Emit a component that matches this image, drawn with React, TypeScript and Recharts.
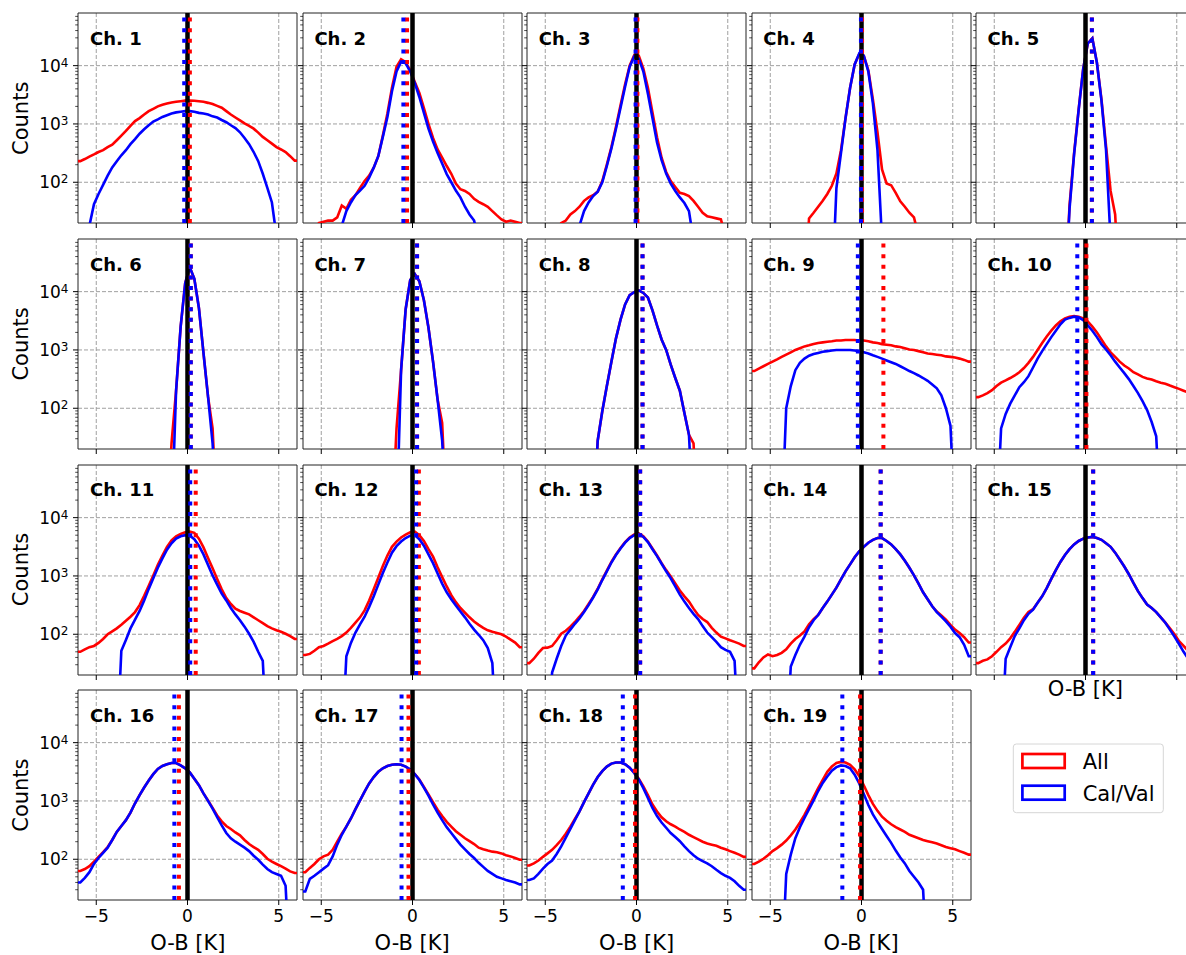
import React from 'react';
import { LineChart, Line, XAxis, YAxis, CartesianGrid, ReferenceLine, ReferenceArea } from 'recharts';

// centres of the 0.25 K histogram bins
const BIN_CENTERS = [-5.875, -5.625, -5.375, -5.125, -4.875, -4.625, -4.375, -4.125, -3.875, -3.625, -3.375, -3.125,
  -2.875, -2.625, -2.375, -2.125, -1.875, -1.625, -1.375, -1.125, -0.875, -0.625, -0.375, -0.125,
  0.125, 0.375, 0.625, 0.875, 1.125, 1.375, 1.625, 1.875, 2.125, 2.375, 2.625, 2.875,
  3.125, 3.375, 3.625, 3.875, 4.125, 4.375, 4.625, 4.875, 5.125, 5.375, 5.625, 5.875];

const CHANNELS = ['Ch. 1', 'Ch. 2', 'Ch. 3', 'Ch. 4', 'Ch. 5', 'Ch. 6', 'Ch. 7', 'Ch. 8', 'Ch. 9', 'Ch. 10',
  'Ch. 11', 'Ch. 12', 'Ch. 13', 'Ch. 14', 'Ch. 15', 'Ch. 16', 'Ch. 17', 'Ch. 18', 'Ch. 19'];

const X_TICKS = [-5, 0, 5];
const Y_TICKS = [100, 1000, 10000];
const Y_MINOR = [30, 40, 50, 60, 70, 80, 90, 200, 300, 400, 500, 600, 700, 800, 900,
  2000, 3000, 4000, 5000, 6000, 7000, 8000, 9000, 20000, 30000, 40000, 50000, 60000, 70000];

// counts per bin, "All" observations
const ALL_1 = [230, 250, 275, 300, 330, 355, 400, 440, 525, 630, 760, 930, 1120, 1260, 1450, 1660, 1820, 2000, 2140, 2240, 2340, 2400, 2450, 2510,
  2510, 2500, 2450, 2400, 2300, 2190, 2040, 1900, 1660, 1450, 1290, 1150, 1020, 930, 830, 710, 600, 525, 460, 400, 365, 330, 280, 235];
const ALL_2 = [0, 0, 0, 20, 21, 22, 22, 25, 40, 35, 50, 60, 80, 105, 130, 178, 280, 630, 1510, 4170, 9550, 12900, 11500, 8300,
  5250, 3390, 1860, 1000, 575, 365, 265, 190, 140, 95, 76, 71, 63, 52, 46, 42, 38, 32, 27, 23, 21, 22, 21, 20];
const ALL_3 = [0, 0, 0, 0, 0, 0, 0, 20, 22, 28, 32, 38, 48, 55, 60, 69, 105, 200, 400, 890, 2090, 4790, 10000, 15100,
  14800, 8900, 4170, 1580, 590, 263, 150, 105, 83, 66, 63, 58, 48, 38, 30, 26, 25, 24, 23, 12, 0, 0, 0, 0];
const ALL_4 = [0, 0, 0, 0, 0, 0, 0, 0, 0, 0, 0, 0, 24, 30, 38, 48, 63, 87, 141, 355, 1260, 4170, 10500, 15800,
  14800, 8300, 2630, 720, 166, 95, 89, 66, 47, 38, 30, 25, 12, 0, 0, 0, 0, 0, 0, 0, 0, 0, 0, 0];
const ALL_5 = [0, 0, 0, 0, 0, 0, 0, 0, 0, 0, 0, 0, 0, 0, 0, 0, 0, 0, 0, 0, 40, 316, 1780, 8900,
  24000, 29500, 11200, 2630, 420, 71, 28, 0, 0, 0, 0, 0, 0, 0, 0, 0, 0, 0, 0, 0, 0, 0, 0, 0];
const ALL_6 = [0, 0, 0, 0, 0, 0, 0, 0, 0, 0, 0, 0, 0, 0, 0, 0, 0, 0, 0, 0, 25, 200, 2510, 14100,
  26300, 16600, 5250, 890, 158, 45, 0, 0, 0, 0, 0, 0, 0, 0, 0, 0, 0, 0, 0, 0, 0, 0, 0, 0];
const ALL_7 = [0, 0, 0, 0, 0, 0, 0, 0, 0, 0, 0, 0, 0, 0, 0, 0, 0, 0, 0, 0, 45, 450, 5000, 15800,
  20000, 15100, 7100, 2400, 630, 141, 56, 0, 0, 0, 0, 0, 0, 0, 0, 0, 0, 0, 0, 0, 0, 0, 0, 0];
const ALL_8 = [0, 0, 0, 0, 0, 0, 0, 0, 0, 0, 0, 0, 0, 0, 0, 28, 89, 240, 630, 1580, 3310, 6030, 8710, 9800,
  10500, 9500, 7940, 4790, 2630, 1510, 1000, 560, 330, 200, 83, 35, 25, 0, 0, 0, 0, 0, 0, 0, 0, 0, 0, 0];
const ALL_9 = [435, 480, 525, 575, 630, 690, 760, 830, 910, 1000, 1070, 1150, 1200, 1260, 1320, 1350, 1380, 1410, 1450, 1450, 1480, 1480, 1480, 1450,
  1450, 1410, 1350, 1320, 1260, 1230, 1200, 1150, 1120, 1070, 1020, 1000, 955, 910, 870, 850, 830, 810, 775, 760, 740, 710, 675, 630];
const ALL_10 = [155, 166, 182, 204, 240, 275, 300, 330, 365, 415, 490, 600, 760, 1000, 1320, 1700, 2140, 2630, 3090, 3470, 3720, 3800, 3720, 3470,
  3090, 2510, 2000, 1510, 1150, 910, 760, 630, 540, 480, 415, 380, 345, 325, 310, 290, 275, 263, 245, 230, 215, 200, 186, 174];
const ALL_11 = [50, 55, 60, 63, 71, 83, 100, 112, 126, 145, 170, 200, 240, 316, 457, 676, 1020, 1550, 2240, 3160, 4070, 4790, 5250, 5620,
  5750, 5500, 4370, 3090, 2040, 1350, 890, 590, 417, 330, 275, 251, 234, 219, 195, 174, 155, 138, 126, 117, 110, 102, 93, 83];
const ALL_12 = [44, 46, 52, 60, 63, 69, 76, 83, 93, 107, 129, 158, 195, 257, 380, 590, 930, 1480, 2240, 3160, 3890, 4570, 5130, 5620,
  5750, 5010, 3980, 2880, 2140, 1410, 955, 660, 468, 355, 282, 234, 195, 166, 145, 129, 117, 110, 105, 100, 91, 81, 72, 60];
const ALL_13 = [32, 38, 48, 58, 59, 63, 79, 102, 115, 135, 162, 200, 251, 331, 437, 603, 871, 1230, 1740, 2340, 3020, 3800, 4570, 5130,
  5370, 4790, 3890, 2950, 2240, 1660, 1260, 977, 741, 562, 447, 363, 275, 214, 182, 162, 129, 107, 91, 85, 79, 74, 69, 63];
const ALL_14 = [26, 33, 40, 45, 42, 44, 48, 55, 69, 83, 95, 112, 148, 182, 214, 282, 363, 479, 631, 871, 1200, 1580, 2090, 2630,
  3160, 3720, 4170, 4470, 4470, 3980, 3470, 2880, 2340, 1820, 1380, 1020, 741, 525, 398, 302, 245, 209, 178, 145, 120, 105, 89, 72];
const ALL_15 = [32, 35, 37, 42, 50, 60, 69, 85, 110, 145, 191, 240, 269, 347, 447, 617, 891, 1260, 1740, 2290, 2880, 3470, 3980, 4370,
  4570, 4680, 4470, 4170, 3630, 3160, 2510, 1910, 1450, 1070, 759, 550, 417, 324, 282, 240, 195, 158, 126, 100, 76, 63, 52, 45];
const ALL_16 = [63, 68, 76, 91, 110, 132, 162, 214, 295, 372, 468, 631, 912, 1260, 1700, 2240, 2880, 3550, 3980, 4270, 4470, 4470, 4070, 3630,
  3090, 2400, 1860, 1350, 1020, 759, 562, 447, 372, 331, 288, 257, 214, 182, 162, 145, 123, 102, 91, 83, 76, 69, 62, 58];
const ALL_17 = [60, 71, 83, 100, 112, 120, 145, 200, 275, 363, 501, 724, 1020, 1450, 2000, 2570, 3160, 3630, 3980, 4170, 4270, 4170, 3890, 3470,
  2880, 2340, 1740, 1290, 955, 708, 550, 437, 363, 302, 263, 229, 204, 182, 158, 148, 141, 135, 132, 126, 117, 112, 105, 98];
const ALL_18 = [78, 85, 95, 110, 126, 145, 174, 214, 275, 363, 490, 661, 955, 1350, 1910, 2570, 3240, 3890, 4370, 4570, 4570, 4270, 3720, 3020,
  2400, 1780, 1260, 871, 661, 525, 447, 398, 363, 324, 295, 263, 240, 219, 200, 186, 178, 170, 158, 148, 138, 129, 120, 110];
const ALL_19 = [83, 91, 102, 117, 138, 155, 178, 209, 257, 324, 427, 575, 813, 1170, 1660, 2290, 3160, 3890, 4470, 4680, 4570, 4170, 3470, 2690,
  1860, 1260, 891, 676, 537, 457, 398, 355, 324, 295, 263, 245, 229, 214, 204, 195, 186, 174, 162, 155, 148, 138, 129, 120];

// counts per bin, "Cal/Val" subset
const CV_1 = [0, 0, 18, 42, 63, 90, 130, 180, 230, 290, 355, 450, 550, 680, 810, 950, 1100, 1200, 1320, 1410, 1510, 1580, 1620, 1660,
  1660, 1620, 1550, 1510, 1450, 1350, 1290, 1170, 1070, 950, 850, 720, 575, 450, 330, 230, 140, 80, 45, 12, 0, 0, 0, 0];
const CV_2 = [0, 0, 0, 0, 0, 0, 0, 0, 18, 32, 45, 60, 72, 87, 120, 178, 280, 600, 1320, 3630, 7940, 11700, 11000, 7900,
  5000, 2900, 1550, 830, 500, 316, 210, 138, 100, 72, 55, 38, 28, 22, 10, 0, 0, 0, 0, 0, 0, 0, 0, 0];
const CV_3 = [0, 0, 0, 0, 0, 0, 0, 0, 0, 0, 0, 18, 32, 45, 58, 69, 100, 190, 380, 830, 1900, 4370, 9550, 14500,
  13200, 7940, 3310, 1260, 480, 240, 141, 95, 71, 55, 44, 32, 10, 0, 0, 0, 0, 0, 0, 0, 0, 0, 0, 0];
const CV_4 = [0, 0, 0, 0, 0, 0, 0, 0, 0, 0, 0, 0, 0, 0, 0, 0, 0, 0, 79, 316, 1260, 4170, 10500, 16200,
  14800, 7900, 2240, 355, 10, 0, 0, 0, 0, 0, 0, 0, 0, 0, 0, 0, 0, 0, 0, 0, 0, 0, 0, 0];
const CV_5 = [0, 0, 0, 0, 0, 0, 0, 0, 0, 0, 0, 0, 0, 0, 0, 0, 0, 0, 0, 0, 35, 300, 1740, 8900,
  24000, 29500, 11200, 2510, 355, 10, 0, 0, 0, 0, 0, 0, 0, 0, 0, 0, 0, 0, 0, 0, 0, 0, 0, 0];
const CV_6 = [0, 0, 0, 0, 0, 0, 0, 0, 0, 0, 0, 0, 0, 0, 0, 0, 0, 0, 0, 0, 0, 200, 2510, 14100,
  26300, 16600, 5250, 890, 158, 25, 0, 0, 0, 0, 0, 0, 0, 0, 0, 0, 0, 0, 0, 0, 0, 0, 0, 0];
const CV_7 = [0, 0, 0, 0, 0, 0, 0, 0, 0, 0, 0, 0, 0, 0, 0, 0, 0, 0, 0, 0, 0, 450, 5000, 15800,
  20000, 15100, 7100, 2400, 630, 141, 28, 0, 0, 0, 0, 0, 0, 0, 0, 0, 0, 0, 0, 0, 0, 0, 0, 0];
const CV_8 = [0, 0, 0, 0, 0, 0, 0, 0, 0, 0, 0, 0, 0, 0, 0, 28, 89, 240, 630, 1580, 3310, 6030, 8710, 9800,
  10500, 9500, 7940, 4790, 2630, 1510, 1000, 560, 330, 200, 83, 35, 0, 0, 0, 0, 0, 0, 0, 0, 0, 0, 0, 0];
const CV_9 = [0, 0, 0, 0, 0, 0, 0, 100, 240, 450, 600, 710, 795, 850, 890, 930, 955, 980, 1000, 1000, 1000, 1000, 980, 955,
  910, 870, 810, 760, 710, 660, 615, 575, 525, 480, 435, 400, 365, 330, 295, 255, 220, 166, 100, 50, 0, 0, 0, 0];
const CV_10 = [0, 0, 0, 0, 0, 45, 80, 120, 166, 230, 280, 355, 500, 710, 955, 1260, 1660, 2140, 2750, 3310, 3550, 3720, 3630, 3240,
  2630, 2140, 1660, 1260, 1020, 810, 630, 500, 400, 316, 240, 182, 132, 93, 58, 33, 0, 0, 0, 0, 0, 0, 0, 0];
const CV_11 = [0, 0, 0, 0, 0, 0, 0, 0, 0, 52, 80, 126, 178, 251, 380, 600, 910, 1380, 2000, 2820, 3630, 4370, 4790, 5010,
  4900, 4270, 3310, 2340, 1550, 1020, 710, 500, 380, 282, 219, 174, 135, 102, 74, 50, 35, 0, 0, 0, 0, 0, 0, 0];
const CV_12 = [0, 0, 0, 0, 0, 0, 0, 0, 0, 42, 71, 107, 148, 200, 295, 447, 710, 1120, 1700, 2510, 3240, 3890, 4470, 4900,
  5010, 4270, 3310, 2340, 1660, 1100, 740, 525, 400, 310, 245, 195, 151, 120, 98, 79, 58, 32, 0, 0, 0, 0, 0, 0];
const CV_13 = [0, 0, 0, 0, 0, 22, 38, 63, 95, 120, 151, 186, 240, 316, 427, 589, 851, 1200, 1700, 2290, 2950, 3720, 4470, 5010,
  5250, 4680, 3800, 2880, 2190, 1620, 1200, 912, 661, 479, 363, 282, 224, 182, 138, 107, 89, 74, 60, 54, 50, 35, 0, 0];
const CV_14 = [0, 0, 0, 0, 0, 0, 0, 0, 28, 44, 66, 91, 132, 174, 214, 282, 363, 479, 631, 871, 1200, 1580, 2090, 2630,
  3160, 3720, 4170, 4470, 4470, 3980, 3470, 2880, 2340, 1820, 1380, 1020, 741, 525, 398, 302, 240, 200, 166, 135, 105, 89, 66, 42];
const CV_15 = [0, 0, 0, 0, 0, 0, 38, 60, 93, 126, 174, 224, 263, 347, 447, 617, 891, 1260, 1740, 2290, 2880, 3470, 3980, 4370,
  4570, 4680, 4470, 4170, 3630, 3160, 2510, 1910, 1450, 1070, 759, 550, 417, 324, 282, 240, 195, 158, 120, 91, 68, 50, 38, 28];
const CV_16 = [40, 48, 60, 83, 105, 129, 158, 214, 295, 372, 468, 631, 912, 1260, 1700, 2240, 2880, 3550, 3980, 4270, 4470, 4470, 4070, 3630,
  3090, 2400, 1860, 1350, 1000, 740, 530, 380, 282, 229, 200, 178, 158, 138, 115, 98, 81, 68, 60, 56, 52, 35, 0, 0];
const CV_17 = [28, 46, 52, 60, 69, 79, 112, 178, 263, 363, 501, 724, 1020, 1450, 2000, 2570, 3160, 3630, 3980, 4170, 4270, 4170, 3890, 3470,
  2880, 2290, 1690, 1230, 871, 631, 468, 355, 282, 224, 178, 148, 123, 105, 87, 74, 63, 56, 50, 47, 44, 42, 40, 37];
const CV_18 = [44, 47, 56, 69, 83, 95, 123, 166, 234, 331, 468, 661, 955, 1350, 1910, 2570, 3240, 3890, 4370, 4570, 4570, 4270, 3720, 3020,
  2340, 1660, 1120, 759, 550, 427, 347, 282, 240, 204, 166, 138, 117, 102, 93, 85, 76, 66, 58, 52, 48, 42, 35, 30];
const CV_19 = [0, 0, 0, 0, 0, 0, 0, 56, 120, 229, 355, 513, 724, 1020, 1480, 2040, 2630, 3310, 3800, 4070, 3980, 3630, 2820, 2000,
  1320, 851, 589, 437, 331, 251, 191, 141, 107, 85, 63, 50, 40, 30, 0, 0, 0, 0, 0, 0, 0, 0, 0, 0];

// mean O-B per channel (dotted lines)
const MEAN_ALL = [0.13, -0.3, 0.05, 0.03, 0.35, 0.18, 0.25, 0.33, 1.2, 0.05, 0.45, 0.35, 0.2, 1.05, 0.42, -0.47, -0.22, -0.08, -0.08];
const MEAN_CV = [-0.18, -0.5, -0.05, -0.03, 0.35, 0.18, 0.25, 0.33, -0.2, -0.45, 0.15, 0.2, 0.2, 1.05, 0.42, -0.72, -0.6, -0.75, -1.05];

const ALL = [ALL_1, ALL_2, ALL_3, ALL_4, ALL_5, ALL_6, ALL_7, ALL_8, ALL_9, ALL_10, ALL_11, ALL_12, ALL_13, ALL_14, ALL_15, ALL_16, ALL_17, ALL_18, ALL_19];
const CV = [CV_1, CV_2, CV_3, CV_4, CV_5, CV_6, CV_7, CV_8, CV_9, CV_10, CV_11, CV_12, CV_13, CV_14, CV_15, CV_16, CV_17, CV_18, CV_19];

const FONT = '"DejaVu Sans", sans-serif';
const PLOT_W = 219;
const PLOT_H = 210;
const COL_X0 = 78.3;
const COL_STEP = 224.4;
const ROW_Y0 = 13.3;
const ROW_STEP = 225.6;
const FLOOR = 1; // empty bins fall below the axis

function buildRows(all: number[], cv: number[]) {
  const last = all.length - 1;
  const rows = BIN_CENTERS.map((x, i) => ({ x, all: all[i] || FLOOR, cv: cv[i] || FLOOR }));
  // carry the outer bins out to the frame edges
  rows.unshift({ x: -6, all: all[0] || FLOOR, cv: cv[0] || FLOOR });
  rows.push({ x: 6, all: all[last] || FLOOR, cv: cv[last] || FLOOR });
  return rows;
}

const minus = (v: number) => (v < 0 ? `\u2212${Math.abs(v)}` : `${v}`);

function XTick({ x, y, payload, labels }: any) {
  return (
    <g>
      <line x1={x} x2={x} y1={y} y2={y + 5} stroke="#000" strokeWidth={1} />
      {labels && (
        <text x={x} y={y + 22} textAnchor="middle" fontSize={17} fill="#000">{minus(payload.value)}</text>
      )}
    </g>
  );
}

function YTick({ x, y, payload, labels }: any) {
  const v = payload.value;
  const major = Y_TICKS.includes(v);
  return (
    <g>
      <line x1={x - (major ? 5 : 2.8)} x2={x} y1={y} y2={y} stroke="#000" strokeWidth={major ? 1 : 0.7} />
      {major && labels && (
        <text x={x - 9.5} y={y + 6.2} textAnchor="end" fontSize={17} fill="#000">
          10<tspan dy={-5} fontSize={12}>{Math.round(Math.log10(v))}</tspan>
        </text>
      )}
    </g>
  );
}

function Panel({ idx }: { idx: number }) {
  const r = Math.floor(idx / 5);
  const c = idx % 5;
  const left = COL_X0 + c * COL_STEP;
  const top = ROW_Y0 + r * ROW_STEP;
  const yLabels = c === 0;
  const xLabels = r === 3;
  const yw = yLabels ? 70 : 8;
  const xh = xLabels ? 30 : 8;
  const data = buildRows(ALL[idx], CV[idx]);
  return (
    <div style={{ position: 'absolute', left: left - yw, top: top - 2 }}>
      <LineChart width={yw + PLOT_W + 2} height={PLOT_H + 2 + xh} data={data}
        margin={{ top: 2, right: 2, bottom: 0, left: 0 }}>
        <CartesianGrid horizontalValues={Y_TICKS} verticalValues={X_TICKS} stroke="#a0a0a0" strokeDasharray="4 2" />
        <XAxis dataKey="x" type="number" domain={[-6, 6]} ticks={X_TICKS} allowDataOverflow height={xh}
          axisLine={false} tickLine={false} tickSize={0} tickMargin={0} interval={0}
          tick={(p: any) => <XTick {...p} labels={xLabels} />} />
        <YAxis type="number" scale="log" domain={[20, 80000]} ticks={[...Y_MINOR, ...Y_TICKS]} allowDataOverflow width={yw}
          axisLine={false} tickLine={false} tickSize={0} tickMargin={0} interval={0}
          tick={(p: any) => <YTick {...p} labels={yLabels} />} />
        <Line type="linear" dataKey="all" stroke="#ff0000" strokeWidth={2.6} dot={false} activeDot={false} isAnimationActive={false} />
        <Line type="linear" dataKey="cv" stroke="#0000ff" strokeWidth={2.6} dot={false} activeDot={false} isAnimationActive={false} />
        <ReferenceLine x={0} stroke="#000" strokeWidth={4.5} />
        <ReferenceLine x={MEAN_ALL[idx]} stroke="#ff0000" strokeWidth={4} strokeDasharray="4 6.6" />
        <ReferenceLine x={MEAN_CV[idx]} stroke="#0000ff" strokeWidth={4} strokeDasharray="4 6.6" />
        <ReferenceArea x1={-6} x2={6} y1={20} y2={80000} fill="none" stroke="#222" strokeWidth={1} />
      </LineChart>
    </div>
  );
}

export default function App() {
  const xLabelSpots = [
    { x: COL_X0 + PLOT_W / 2, y: 950 },
    { x: COL_X0 + COL_STEP + PLOT_W / 2, y: 950 },
    { x: COL_X0 + 2 * COL_STEP + PLOT_W / 2, y: 950 },
    { x: COL_X0 + 3 * COL_STEP + PLOT_W / 2, y: 950 },
    { x: COL_X0 + 4 * COL_STEP + PLOT_W / 2, y: 696 },
  ];
  return (
    <div style={{ position: 'absolute', left: 0, top: 0, width: 1186, height: 955, overflow: 'hidden', background: '#fff', fontFamily: FONT }}>
      {CHANNELS.map((_, i) => <Panel key={i} idx={i} />)}
      <svg width={1186} height={955} style={{ position: 'absolute', left: 0, top: 0, pointerEvents: 'none' }} fontFamily={FONT}>
        {CHANNELS.map((name, i) => (
          <text key={name} x={COL_X0 + (i % 5) * COL_STEP + 11.7} y={ROW_Y0 + Math.floor(i / 5) * ROW_STEP + 31.7}
            fontSize={18} fontWeight="bold" fill="#000">{name}</text>
        ))}
        {[0, 1, 2, 3].map((r) => (
          <text key={r} transform={`translate(21.3, ${ROW_Y0 + r * ROW_STEP + PLOT_H / 2}) rotate(-90)`}
            textAnchor="middle" dominantBaseline="central" fontSize={21} fill="#000">Counts</text>
        ))}
        {xLabelSpots.map((s, i) => (
          <text key={i} x={s.x} y={s.y} textAnchor="middle" fontSize={21} fill="#000">O-B [K]</text>
        ))}
        <rect x={1013.3} y={744} width={150} height={68.7} rx={3} fill="#fff" fillOpacity={0.8} stroke="#d6d6d6" strokeWidth={1} />
        <rect x={1022.4} y={754} width={42.3} height={14} fill="none" stroke="#ff0000" strokeWidth={2.7} />
        <rect x={1022.4} y={785.7} width={42.3} height={14} fill="none" stroke="#0000ff" strokeWidth={2.7} />
        <text x={1082.7} y={769} fontSize={21} fill="#000">All</text>
        <text x={1082.7} y={800.5} fontSize={21} fill="#000">Cal/Val</text>
      </svg>
    </div>
  );
}
